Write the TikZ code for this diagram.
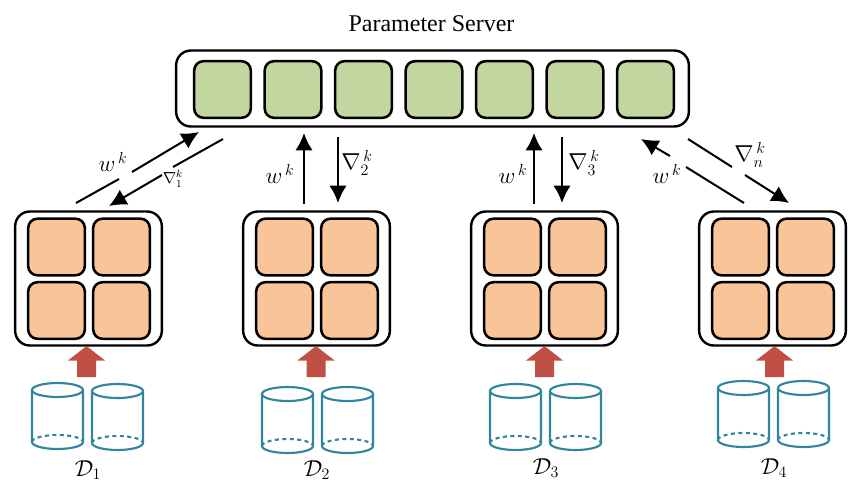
\documentclass[tikz,border=0pt]{standalone}
\usepackage{amsmath}
\usepackage{fontspec}
\newfontfamily\titlefont{Liberation Serif}
\usetikzlibrary{arrows.meta}
\definecolor{srvgreen}{RGB}{196,214,160}
\definecolor{cellorange}{RGB}{248,196,152}
\definecolor{feedred}{RGB}{192,80,70}
\definecolor{drumteal}{RGB}{49,133,156}
\tikzset{
  srvbox/.style={draw,line width=1.8pt,rounded corners=11pt,minimum width=384.5pt,minimum height=57pt},
  clientbox/.style={draw,line width=1.8pt,rounded corners=11pt,minimum width=110pt,minimum height=100.5pt},
  srvcell/.style={draw,line width=1.9pt,fill=srvgreen,rounded corners=7pt,minimum size=42.5pt},
  clientcell/.style={draw,line width=1.9pt,fill=cellorange,rounded corners=7pt,minimum size=42.5pt},
  msg/.style={line width=1.5pt,-{Latex[length=13pt,width=13pt]}},
  drum/.pic={
    \draw[drumteal,line width=1.6pt] (0,0) ellipse [x radius=25.5,y radius=7];
    \draw[drumteal,line width=1.6pt] (-25.5,0) -- (-25.5,-52) arc [start angle=180,end angle=360,x radius=25.5,y radius=7] -- (25.5,0);
    \draw[drumteal,line width=1.6pt,dash pattern={on 3pt off 2.6pt}] (-25.5,-52) arc [start angle=180,end angle=0,x radius=25.5,y radius=7];
  },
  feed/.pic={
    \fill[feedred] (0,0) -- (18.5,-14.5) -- (9.5,-14.5) -- (9.5,-31) -- (-9.5,-31) -- (-9.5,-14.5) -- (-18.5,-14.5) -- cycle;
  }
}

\begin{document}
\begin{tikzpicture}[x=0.75pt,y=0.75pt,yscale=-1,xscale=1]
\useasboundingbox (0,0) rectangle (867,490);

% Server
\node[srvbox] (server) at (432.5,88.5) {};
\node[srvcell] (s1) at (222.5,89.5) {};
\node[srvcell] (s2) at (293,89.5) {};
\node[srvcell] (s3) at (363.5,89.5) {};
\node[srvcell] (s4) at (434,89.5) {};
\node[srvcell] (s5) at (504.5,89.5) {};
\node[srvcell] (s6) at (575,89.5) {};
\node[srvcell] (s7) at (645.5,89.5) {};
\node[font=\titlefont\fontsize{18}{21}\selectfont] (title) at (431.5,24) {Parameter Server};

% Clients
\node[clientbox] (c1) at (88.5,278.5) {};
\node[clientcell] (c1a) at (56.5,247) {};
\node[clientcell] (c1b) at (121.5,247) {};
\node[clientcell] (c1c) at (56.5,310.5) {};
\node[clientcell] (c1d) at (121.5,310.5) {};
\node[clientbox] (c2) at (316.5,278.5) {};
\node[clientcell] (c2a) at (284.5,247) {};
\node[clientcell] (c2b) at (349.5,247) {};
\node[clientcell] (c2c) at (284.5,310.5) {};
\node[clientcell] (c2d) at (349.5,310.5) {};
\node[clientbox] (c3) at (544.5,278.5) {};
\node[clientcell] (c3a) at (512.5,247) {};
\node[clientcell] (c3b) at (577.5,247) {};
\node[clientcell] (c3c) at (512.5,310.5) {};
\node[clientcell] (c3d) at (577.5,310.5) {};
\node[clientbox] (c4) at (772.5,278.5) {};
\node[clientcell] (c4a) at (740.5,247) {};
\node[clientcell] (c4b) at (805.5,247) {};
\node[clientcell] (c4c) at (740.5,310.5) {};
\node[clientcell] (c4d) at (805.5,310.5) {};

% Data feeds
\pic at (86.5,346) {feed};
\pic at (316,346) {feed};
\pic at (544.5,346) {feed};
\pic at (774.5,346) {feed};

% Drums
\pic at (57.5,390) {drum};
\pic at (117.5,391) {drum};
\pic at (287.5,394) {drum};
\pic at (347.5,394) {drum};
\pic at (515.5,391) {drum};
\pic at (575.5,391) {drum};
\pic at (743.5,388) {drum};
\pic at (803.5,388) {drum};

% Ends of the arrows
\coordinate (w1s) at (76,203);
\coordinate (w1g) at (119,179);
\coordinate (w1h) at (132,172);
\coordinate (w1e) at (199,132);
\coordinate (g1s) at (223,139);
\coordinate (g1g) at (173,167);
\coordinate (g1h) at (162,175);
\coordinate (g1e) at (109,206);
\coordinate (w2s) at (304,204);
\coordinate (w2e) at (304,133);
\coordinate (g2s) at (338,137);
\coordinate (g2e) at (338,203);
\coordinate (w3s) at (534,204);
\coordinate (w3e) at (534,133);
\coordinate (g3s) at (562,137);
\coordinate (g3e) at (562,203);
\coordinate (w4s) at (744,203);
\coordinate (w4g) at (686,167);
\coordinate (w4h) at (670,156);
\coordinate (w4e) at (641,139);
\coordinate (g4s) at (688,139);
\coordinate (g4g) at (732,167);
\coordinate (g4h) at (745,175);
\coordinate (g4e) at (789,203);

\draw[msg] (w1s) -- (w1g) (w1h) -- (w1e);
\draw[msg] (g1s) -- (g1g) (g1h) -- (g1e);
\draw[msg] (w2s) -- (w2e);
\draw[msg] (g2s) -- (g2e);
\draw[msg] (w3s) -- (w3e);
\draw[msg] (g3s) -- (g3e);
\draw[msg] (w4s) -- (w4g) (w4h) -- (w4e);
\draw[msg] (g4s) -- (g4g) (g4h) -- (g4e);

% Text Node
\node[font=\LARGE] (lw1) at (113,162) {$w^{\,k}$};
\node[font=\large] (lg1) at (173,179) {$\nabla_1^k$};
\node[font=\LARGE] (lw2) at (280,174) {$w^{\,k}$};
\node[font=\LARGE] (lg2) at (357,163) {$\nabla_2^{\,k}$};
\node[font=\LARGE] (lw3) at (513,174) {$w^{\,k}$};
\node[font=\LARGE] (lg3) at (584,163) {$\nabla_3^{\,k}$};
\node[font=\LARGE] (lw4) at (667,174) {$w^{\,k}$};
\node[font=\LARGE] (lg4) at (750,155) {$\nabla_n^{\,k}$};
\node[font=\LARGE] (d1) at (88,470) {$\mathcal{D}_1$};
\node[font=\LARGE] (d2) at (317,470) {$\mathcal{D}_2$};
\node[font=\LARGE] (d3) at (546,468) {$\mathcal{D}_3$};
\node[font=\LARGE] (d4) at (774,468) {$\mathcal{D}_4$};
\end{tikzpicture}
\end{document}
